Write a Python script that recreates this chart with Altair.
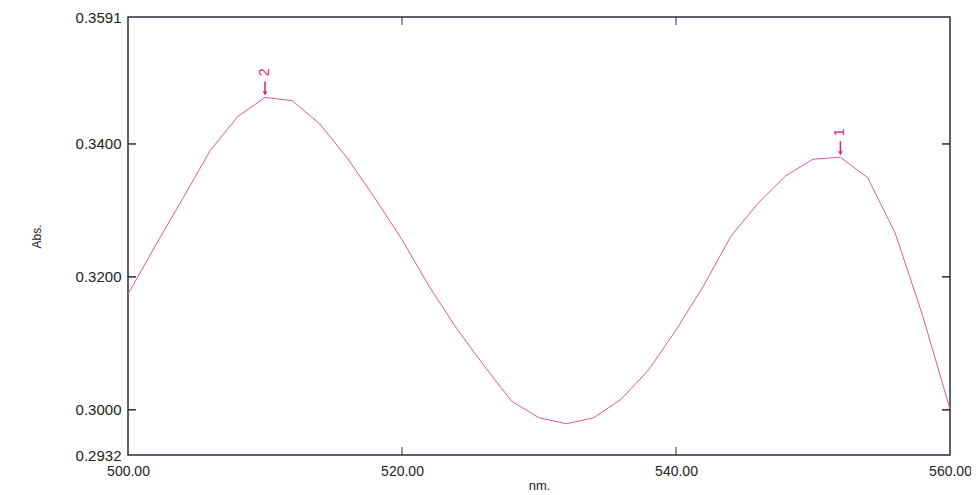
import altair as alt
import pandas as pd

# Wavelength (nm) and absorbance
nm = [500, 502, 504, 506, 508, 510, 512, 514, 516, 518, 520, 522, 524, 526, 528,
      530, 532, 534, 536, 538, 540, 542, 544, 546, 548, 550, 552, 554, 556, 558, 560]
absorb = [0.3174, 0.3247, 0.3318, 0.3390, 0.3441, 0.3470, 0.3465, 0.3430, 0.3379,
          0.3319, 0.3256, 0.3185, 0.3122, 0.3066, 0.3013, 0.2988, 0.2979, 0.2988,
          0.3016, 0.3060, 0.3120, 0.3186, 0.3261, 0.3311, 0.3352, 0.3377, 0.3380,
          0.3349, 0.3266, 0.3142, 0.3001]

peak_nm = [552, 510]
peak_abs = [0.3380, 0.3470]
peak_label = ["1", "2"]

y_ticks = [0.2932, 0.3000, 0.3200, 0.3400, 0.3591]
y_inner_ticks = [0.3000, 0.3200, 0.3400]
x_ticks = [500, 520, 540, 560]
x_inner_ticks = [520, 540]

W, H = 822, 438
FONT = "Liberation Sans"
FRAME = "#2a2a40"
LINE = "#e05a92"
MARK = "#e0207a"

df = pd.DataFrame({"nm": nm, "abs": absorb})
peaks = pd.DataFrame({"nm": peak_nm, "abs": peak_abs, "label": peak_label})
yt = pd.DataFrame({"v": y_inner_ticks})
xt = pd.DataFrame({"v": x_inner_ticks})

xscale = alt.Scale(domain=[500, 560], nice=False, zero=False)
yscale = alt.Scale(domain=[0.2932, 0.3591], nice=False, zero=False)

line = alt.Chart(df).mark_line(color=LINE, strokeWidth=1).encode(
    x=alt.X("nm:Q", scale=xscale,
            axis=alt.Axis(values=x_ticks, format=".2f", title="nm.", ticks=False,
                          grid=False, domain=False, labelPadding=9, labelFlush=False,
                          labelFont=FONT, labelFontSize=14, labelColor="#222",
                          titleFont=FONT, titleFontSize=13, titleFontWeight="normal",
                          titleColor="#222", titlePadding=1)),
    y=alt.Y("abs:Q", scale=yscale,
            axis=alt.Axis(values=y_ticks, format=".4f", title="Abs.", ticks=False,
                          grid=False, domain=False, labelPadding=7, labelFlush=False,
                          labelFont=FONT, labelFontSize=15, labelColor="#222",
                          titleFont=FONT, titleFontSize=12, titleFontWeight="normal",
                          titleColor="#222", titlePadding=32)),
)

left_ticks = alt.Chart(yt).mark_rule(color=FRAME, strokeWidth=1.5).encode(
    y=alt.Y("v:Q", scale=yscale), x=alt.value(0), x2=alt.value(8))
right_ticks = alt.Chart(yt).mark_rule(color=FRAME, strokeWidth=1.5).encode(
    y=alt.Y("v:Q", scale=yscale), x=alt.value(W - 8), x2=alt.value(W))
top_ticks = alt.Chart(xt).mark_rule(color=FRAME, strokeWidth=1).encode(
    x=alt.X("v:Q", scale=xscale), y=alt.value(0), y2=alt.value(8))
bottom_ticks = alt.Chart(xt).mark_rule(color=FRAME, strokeWidth=1).encode(
    x=alt.X("v:Q", scale=xscale), y=alt.value(H - 8), y2=alt.value(H))

arrow_stem = alt.Chart(peaks).mark_rule(color=MARK, strokeWidth=1.5, yOffset=-16, y2Offset=-5).encode(
    x=alt.X("nm:Q", scale=xscale), y=alt.Y("abs:Q", scale=yscale), y2="abs:Q")
arrow_head = alt.Chart(peaks).mark_point(shape="triangle-down", filled=True, color=MARK,
                                         size=22, opacity=1, yOffset=-4).encode(
    x=alt.X("nm:Q", scale=xscale), y=alt.Y("abs:Q", scale=yscale))
arrow_text = alt.Chart(peaks).mark_text(color=MARK, angle=270, font=FONT, fontSize=14,
                                        align="center", baseline="middle", yOffset=-25).encode(
    x=alt.X("nm:Q", scale=xscale), y=alt.Y("abs:Q", scale=yscale), text="label:N")

chart = alt.layer(line, left_ticks, right_ticks, top_ticks, bottom_ticks,
                  arrow_stem, arrow_head, arrow_text).properties(
    width=W, height=H,
    autosize=alt.AutoSizeParams(type="none"),
    padding={"left": 120, "top": 9, "right": 21, "bottom": 36},
    background="white",
).configure_view(stroke=FRAME, strokeWidth=1.5)

chart.save("out.html", embed_options={"renderer": "svg", "actions": False})
